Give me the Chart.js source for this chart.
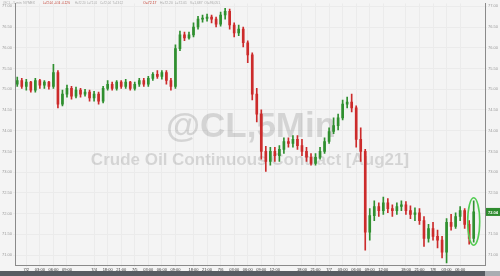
<!DOCTYPE html>
<html>
<head>
<meta charset="utf-8">
<script src="https://cdn.jsdelivr.net/npm/chart.js@4.4.1/dist/chart.umd.min.js"></script>
<style>
    html, body { margin: 0; padding: 0; background: #f4f4f4; }
    #wrap { position: relative; width: 500px; height: 276px; }
</style>
</head>
<body>
<div id="wrap"><canvas id="crudeChart"></canvas></div>
<script>
// === DATA (hourly candles, @CL 5 min chart, 7/1 evening -> 7/8 morning) ===
const opens = [
    75.12, 75.21, 75.07, 75.17, 74.98, 75.21, 75.10, 75.17, 75.07, 75.40,
    74.64, 74.88, 75.02, 74.83, 74.98, 74.88, 74.93, 74.79, 74.88, 74.71,
    75.02, 75.12, 75.02, 75.17, 75.07, 75.17, 75.02, 75.12, 75.21, 75.12,
    75.26, 75.36, 75.31, 75.40, 75.21, 75.07, 75.98, 76.31, 76.24, 76.31,
    76.50, 76.69, 76.71, 76.74, 76.69, 76.57, 76.79, 76.88, 76.55, 76.36,
    76.45, 76.12, 75.83, 74.88, 74.40, 73.50, 73.26, 73.50, 73.40, 73.55,
    73.74, 73.69, 73.79, 73.64, 73.50, 73.36, 73.21, 73.36, 73.50, 73.74,
    73.98, 74.12, 74.31, 74.64, 74.69, 74.55, 73.79, 73.50, 71.55, 71.95,
    72.17, 72.07, 72.26, 72.12, 72.07, 72.17, 72.21, 72.07, 71.98, 72.02,
    71.83, 71.40, 71.64, 71.45, 71.36, 71.07, 71.79, 71.69, 71.93, 72.07,
    71.74, 71.40
];
const highs = [
    75.29, 75.26, 75.24, 75.19, 75.26, 75.24, 75.21, 75.19, 75.60, 75.45,
    74.98, 75.10, 75.07, 75.05, 75.02, 75.00, 74.98, 74.95, 74.93, 75.07,
    75.21, 75.17, 75.21, 75.21, 75.24, 75.19, 75.17, 75.26, 75.26, 75.31,
    75.40, 75.45, 75.45, 75.45, 75.26, 76.07, 76.40, 76.38, 76.38, 76.60,
    76.76, 76.79, 76.81, 76.79, 76.74, 76.86, 76.95, 76.93, 76.60, 76.55,
    76.50, 76.17, 75.88, 75.02, 74.50, 73.62, 73.60, 73.60, 73.64, 73.83,
    73.83, 73.88, 73.88, 73.79, 73.60, 73.45, 73.45, 73.60, 73.83, 74.07,
    74.31, 74.40, 74.74, 74.81, 74.88, 74.60, 74.07, 73.55, 72.12, 72.31,
    72.26, 72.40, 72.36, 72.21, 72.26, 72.31, 72.29, 72.19, 72.14, 72.12,
    71.93, 71.74, 71.79, 71.60, 71.45, 71.88, 71.98, 72.02, 72.17, 72.12,
    71.83, 72.31
];
const lows = [
    75.07, 75.02, 74.98, 74.93, 74.93, 75.02, 75.02, 75.00, 75.02, 74.55,
    74.60, 74.81, 74.76, 74.79, 74.81, 74.83, 74.71, 74.71, 74.64, 74.67,
    74.98, 74.98, 74.98, 75.02, 75.02, 74.98, 74.98, 75.07, 75.07, 75.07,
    75.21, 75.26, 75.24, 75.12, 74.98, 75.02, 75.93, 76.17, 76.21, 76.26,
    76.45, 76.62, 76.64, 76.60, 76.50, 76.52, 76.69, 76.45, 76.26, 76.29,
    76.02, 75.64, 74.74, 74.21, 73.31, 73.02, 73.17, 73.26, 73.26, 73.45,
    73.60, 73.60, 73.55, 73.40, 73.26, 73.17, 73.17, 73.31, 73.45, 73.69,
    73.93, 74.02, 74.26, 74.55, 74.45, 73.60, 73.26, 71.12, 71.36, 71.83,
    71.93, 71.98, 72.02, 71.93, 71.98, 72.07, 71.98, 71.88, 71.83, 71.74,
    71.21, 71.31, 71.36, 71.17, 70.93, 70.81, 71.60, 71.64, 71.83, 71.64,
    71.26, 71.31
];
const closes = [
    75.21, 75.07, 75.17, 74.98, 75.21, 75.10, 75.17, 75.07, 75.40, 74.64,
    74.88, 75.02, 74.83, 74.98, 74.88, 74.93, 74.79, 74.88, 74.71, 75.02,
    75.12, 75.02, 75.17, 75.07, 75.17, 75.02, 75.12, 75.21, 75.12, 75.26,
    75.36, 75.31, 75.40, 75.21, 75.07, 75.98, 76.31, 76.24, 76.31, 76.50,
    76.69, 76.71, 76.74, 76.69, 76.57, 76.79, 76.88, 76.55, 76.36, 76.45,
    76.12, 75.83, 74.88, 74.40, 73.50, 73.26, 73.50, 73.40, 73.55, 73.74,
    73.69, 73.79, 73.64, 73.50, 73.36, 73.21, 73.36, 73.50, 73.74, 73.98,
    74.12, 74.31, 74.64, 74.69, 74.55, 73.79, 73.50, 71.55, 71.95, 72.17,
    72.07, 72.26, 72.12, 72.07, 72.17, 72.21, 72.07, 71.98, 72.02, 71.83,
    71.40, 71.64, 71.45, 71.36, 71.07, 71.79, 71.69, 71.93, 72.07, 71.74,
    71.40, 72.04
];

// x axis: one slot per trading hour, a few empty slots on the right
const SLOT_COUNT = 104;
const tickSlots = [2, 5, 8, 11, 17, 20, 23, 26, 29, 32, 35, 39, 42, 45, 48, 51, 54, 57,
                   63, 66, 69, 72, 75, 78, 81, 86, 89, 92, 95, 98];
const tickTexts = ['7/2', '03:00', '06:00', '09:00', '7/4', '18:00', '21:00', '7/5', '03:00', '06:00',
                   '09:00', '18:00', '21:00', '7/6', '03:00', '06:00', '09:00', '12:00', '18:00', '21:00',
                   '7/7', '03:00', '06:00', '09:00', '12:00', '18:00', '21:00', '7/8', '03:00', '06:00'];

const Y_MIN = 70.76;
const Y_MAX = 77.07;

const COLORS = {
    up: '#2f8f2f',
    down: '#cc2b2b',
    grid: '#ebebeb',
    axis: '#8a8a8a',
    watermark: 'rgba(0, 0, 0, 0.13)'
};

const slotLabels = new Array(SLOT_COUNT).fill('');
tickSlots.forEach((s, i) => { slotLabels[s] = tickTexts[i]; });

function candleColor(i) {
    return closes[i] >= opens[i] ? COLORS.up : COLORS.down;
}

const tinyFont = { family: '"Liberation Sans", Arial, sans-serif', size: 4 };

function yAxis(position) {
    return {
        type: 'linear',
        position: position,
        min: Y_MIN,
        max: Y_MAX,
        ticks: {
            stepSize: 0.5,
            includeBounds: false,
            font: tinyFont,
            color: '#9a9a9a',
            padding: 1,
            callback: v => v.toFixed(2)
        },
        grid: {
            color: COLORS.grid,
            tickLength: 2,
            drawOnChartArea: position === 'left'
        },
        border: { color: COLORS.axis },
        afterFit: scale => { scale.width = 15; }
    };
}

const backdrop = {
    id: 'backdrop',
    beforeDraw(chart) {
        const ctx = chart.ctx;
        ctx.save();
        ctx.fillStyle = '#f4f4f4';
        ctx.fillRect(0, 0, chart.width, chart.height);
        ctx.restore();
    },
    beforeDatasetsDraw(chart) {
        const ctx = chart.ctx, area = chart.chartArea;
        const cx = (area.left + area.right) / 2;
        ctx.save();
        ctx.fillStyle = COLORS.watermark;
        ctx.textAlign = 'center';
        ctx.textBaseline = 'alphabetic';
        ctx.font = 'bold 35px "Liberation Sans", Arial, sans-serif';
        ctx.fillText('@CL,5Min', cx + 1, 137);
        ctx.font = 'bold 17px "Liberation Sans", Arial, sans-serif';
        ctx.fillText('Crude Oil Continuous Contract [Aug21]', cx, 165);
        ctx.restore();
    }
};

const overlay = {
    id: 'overlay',
    afterDraw(chart) {
        const ctx = chart.ctx, area = chart.chartArea;
        const x = chart.scales.x, y = chart.scales.y;
        const last = closes.length - 1;
        ctx.save();

        // header line
        ctx.font = '3.5px "Liberation Sans", Arial, sans-serif';
        ctx.textBaseline = 'middle';
        [
            [3, '@CL - 5 min  NYMEX', '#a8a8a8', 32],
            [43, 'L=72.04  -0.16  -0.22%', '#c0392b', 27],
            [75, 'H=72.20  L=72.01', '#a8a8a8', 22],
            [100, 'C=72.04  T=13:22', '#a8a8a8', 23],
            [143, 'O=72.17', '#c0392b', 14],
            [160, 'H=72.20  L=72.01', '#a8a8a8', 27],
            [190, 'V=1,687  OI=96,051', '#a8a8a8', 30]
        ].forEach(([tx, text, color, w]) => {
            ctx.fillStyle = color;
            ctx.fillText(text, tx, 3.5, w);
        });

        // last price marker on the right axis
        const py = y.getPixelForValue(closes[last]);
        ctx.fillStyle = '#2e8b2e';
        ctx.fillRect(area.right + 1, py - 4, 14, 8);
        ctx.fillStyle = '#ffffff';
        ctx.font = 'bold 4px "Liberation Sans", Arial, sans-serif';
        ctx.textAlign = 'center';
        ctx.fillText(closes[last].toFixed(2), area.right + 8, py + 0.5);

        // green ring round the last candle
        const ex = x.getPixelForValue(last);
        const top = y.getPixelForValue(highs[last]);
        const bot = y.getPixelForValue(lows[last]);
        ctx.strokeStyle = '#52cc52';
        ctx.lineWidth = 1.6;
        ctx.beginPath();
        ctx.ellipse(ex, (top + bot) / 2, 6, (bot - top) / 2 + 3, 0, 0, Math.PI * 2);
        ctx.stroke();

        // scrollbar strip at the bottom
        ctx.fillStyle = '#575c62';
        ctx.fillRect(0, chart.height - 5, chart.width, 5);
        ctx.fillStyle = '#a9adb2';
        ctx.fillRect(area.right, chart.height - 5, chart.width - area.right, 5);
        ctx.restore();
    }
};

new Chart(document.getElementById('crudeChart'), {
    type: 'bar',
    data: {
        labels: slotLabels,
        datasets: [
            {
                label: 'wick',
                data: lows.map((l, i) => [l, highs[i]]),
                backgroundColor: ctx => candleColor(ctx.dataIndex),
                barThickness: 1,
                grouped: false,
                borderWidth: 0,
                order: 2
            },
            {
                label: 'body',
                data: opens.map((o, i) => [o, closes[i]]),
                backgroundColor: ctx => candleColor(ctx.dataIndex),
                barThickness: 2,
                minBarLength: 1,
                grouped: false,
                borderWidth: 0,
                order: 1
            }
        ]
    },
    options: {
        responsive: true,
        maintainAspectRatio: false,
        animation: false,
        layout: { padding: 0 },
        plugins: {
            legend: { display: false },
            tooltip: { enabled: false }
        },
        scales: {
            x: {
                type: 'category',
                offset: true,
                ticks: {
                    autoSkip: false,
                    maxRotation: 0,
                    minRotation: 0,
                    font: tinyFont,
                    color: '#333333',
                    padding: 0,
                    callback: (v, i) => slotLabels[i]
                },
                grid: {
                    color: ctx => (slotLabels[ctx.index] ? COLORS.grid : 'rgba(0,0,0,0)'),
                    tickLength: 2,
                    offset: false
                },
                border: { color: COLORS.axis },
                afterFit: scale => { scale.height = 11; }
            },
            y: yAxis('left'),
            yR: yAxis('right')
        }
    },
    plugins: [backdrop, overlay]
});
</script>
</body>
</html>
